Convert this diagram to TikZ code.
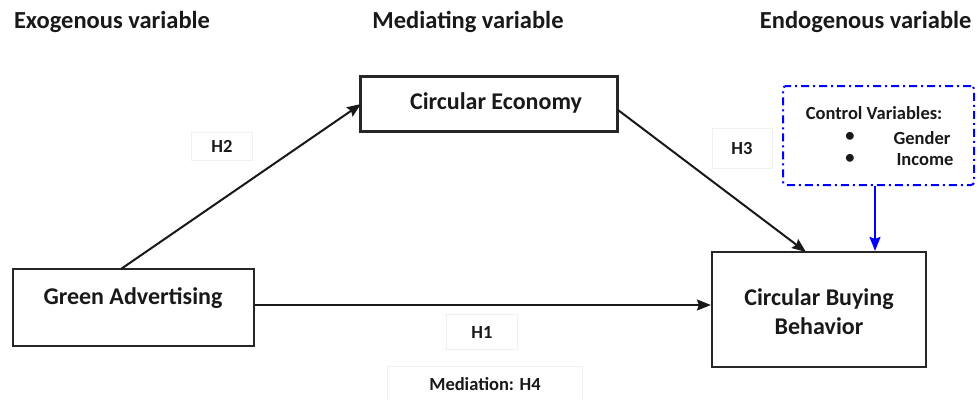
\documentclass[tikz,border=0pt]{standalone}
\usepackage{fontspec}
\setmainfont{Carlito}
\usetikzlibrary{arrows.meta}
\begin{document}
\begin{tikzpicture}[x=1pt,y=-1pt,
  box/.style={draw=black!85,line width=2.2pt,fill=white,inner sep=0pt},
  head/.style={font=\bfseries\fontsize{24.5}{29}\selectfont,text=black!90},
  boxtext/.style={font=\bfseries\fontsize{24}{29}\selectfont,text=black!90,align=center},
  hlab/.style={font=\bfseries\fontsize{18.5}{22}\selectfont,text=black!90,draw=gray!12,line width=0.6pt,inner sep=0pt},
  ctext/.style={font=\bfseries\fontsize{18.5}{22}\selectfont,text=black!90},
  arr/.style={line width=2pt,draw=black!90,-{Stealth[length=14pt,width=11pt,inset=2pt]}},
  barr/.style={line width=2pt,draw=blue,-{Stealth[length=14pt,width=11pt,inset=2pt]}},
  ctrl/.style={draw=blue,line width=2pt,dash pattern=on 8pt off 4pt on 2pt off 4pt,rounded corners=3pt,inner sep=0pt}
]
\useasboundingbox (0,0) rectangle (979,399);
% headers
\node[head] (hx) at (112,22) {Exogenous variable};
\node[head] (hm) at (468,22) {Mediating variable};
\node[head,anchor=east] (hy) at (975,22) {Endogenous variable};
% boxes
\node[box,minimum width=241pt,minimum height=77pt] (ga) at (133.5,307.5) {};
\node[boxtext] (gat) at (133,298) {Green Advertising};
\node[box,minimum width=257pt,minimum height=55pt] (ce) at (489,104) {};
\node[boxtext] (cet) at (496,103) {Circular Economy};
\node[box,minimum width=214pt,minimum height=115pt] (cbb) at (819,309.5) {};
\node[boxtext] (cbbt) at (819,312) {Circular Buying\\Behavior};
% control box
\node[ctrl,minimum width=191pt,minimum height=99pt] (cv) at (878.5,135.5) {};
\node[ctext] (cvt) at (874,113) {Control Variables:};
\node[ctext,anchor=west] (g) at (890,138) {Gender};
\node[ctext,anchor=west] (inc) at (893,160) {Income};
\node[ctext] (b1) at (850,137) {•};
\node[ctext] (b2) at (850,159) {•};
% labels
\node[hlab,minimum width=61pt,minimum height=28pt] (h2) at (222,146) {H2};
\node[hlab,minimum width=60pt,minimum height=40pt] (h3) at (742,148) {H3};
\node[hlab,minimum width=71pt,minimum height=35pt] (h1) at (482,332) {H1};
\node[hlab,minimum width=195pt,minimum height=36pt] (h4) at (485,384) {Mediation: H4};
% arrows
\coordinate (gatop) at (121,269);
\coordinate (ceL) at (361,104);
\coordinate (ceR) at (618,110);
\coordinate (cbbT) at (806,252);
\draw[arr] (gatop) -- (ceL);
\draw[arr] (ceR) -- (cbbT);
\draw[arr] (ga.east |- 0,305) -- (cbb.west |- 0,305);
\draw[barr] (cv.south -| 875,0) -- (cbb.north -| 875,0);
\end{tikzpicture}
\end{document}
